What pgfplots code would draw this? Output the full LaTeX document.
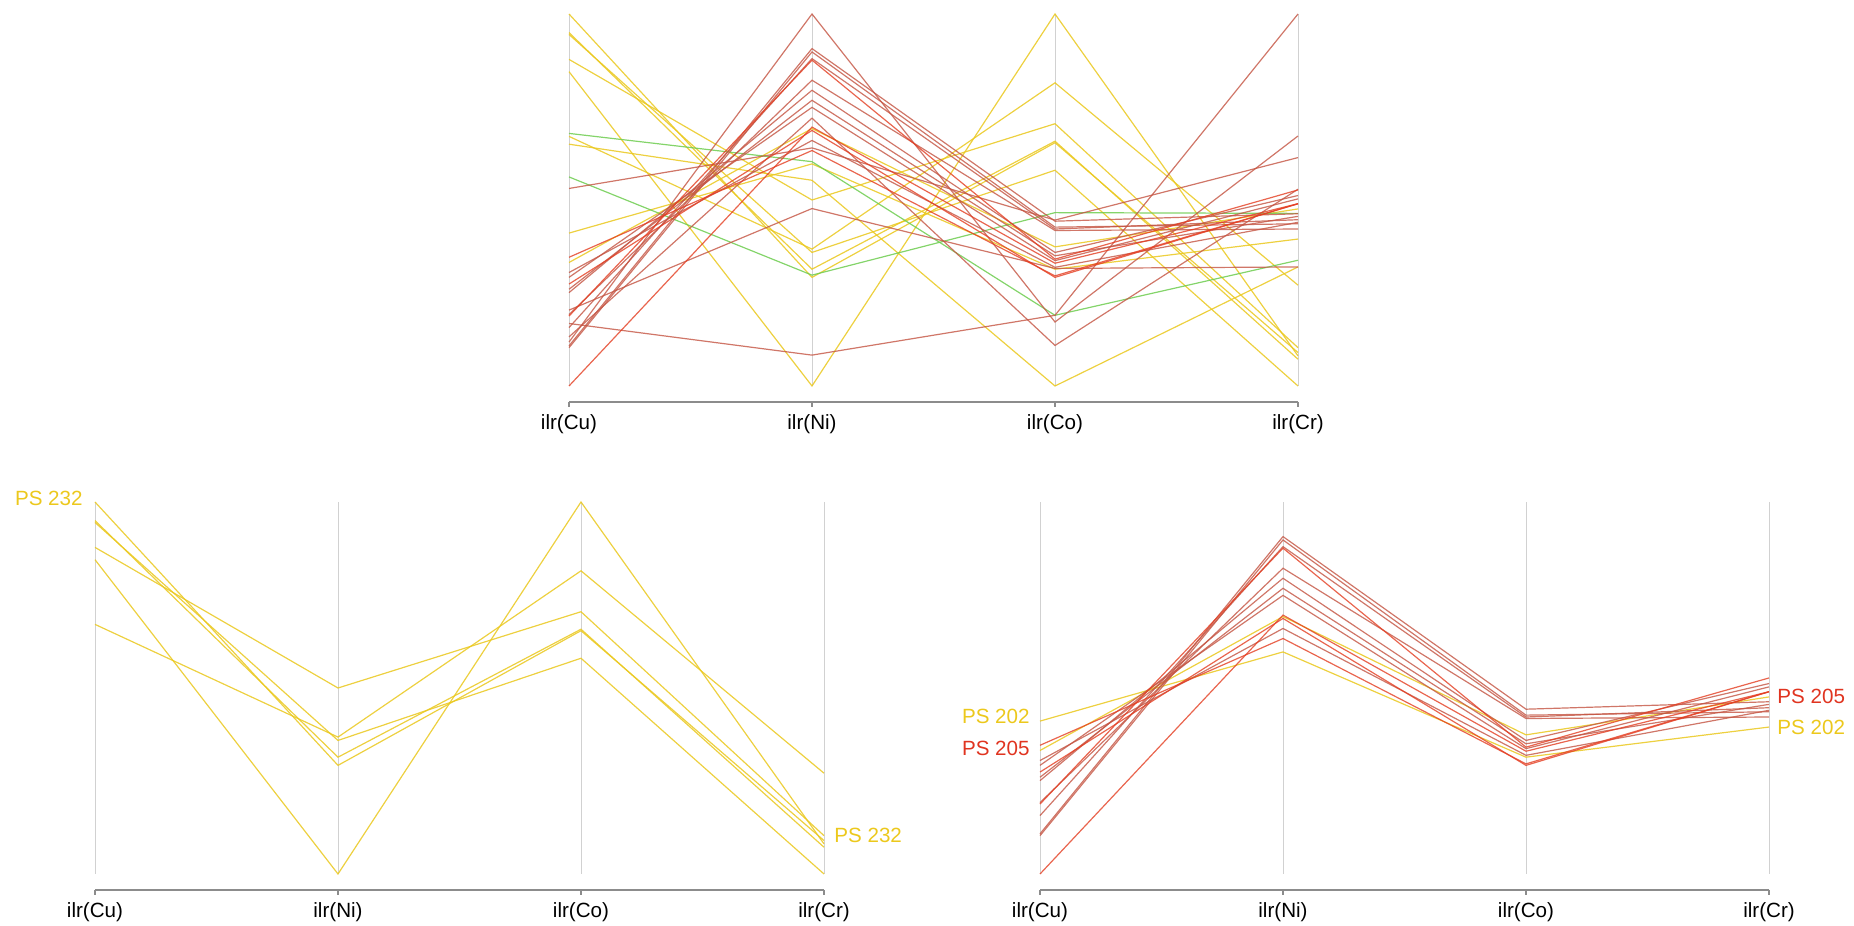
\documentclass[border=0pt]{standalone}
\usepackage{fontspec}
\setmainfont{Liberation Sans}
\usepackage{pgfplots}
\usepackage{pgfplotstable}
\pgfplotsset{compat=1.18}

\definecolor{yl}{RGB}{234,200,30}
\definecolor{rdA}{RGB}{196,84,66}
\definecolor{rdB}{RGB}{228,62,34}
\definecolor{gr}{RGB}{110,205,80}
\definecolor{ylab}{RGB}{236,200,28}
\definecolor{rlab}{RGB}{224,52,32}

% rows = the four ilr axes, columns = one sample line each (min-max scaled)
\pgfplotstableread{
x  L1    L2    L3    L4    L5    L6
0  1.000 0.950 0.945 0.878 0.845 0.671
1  0.292 0.314 0.359 0.500 0.000 0.368
2  0.654 0.658 0.580 0.705 1.000 0.815
3  0.090 0.072 0.000 0.103 0.081 0.271
}\bl

\pgfplotstableread{
x  Y1    Y2    R1    R2    R3    R4    R5    R6    R7    R8    R9    R10   R11   R12
0  0.411 0.332 0.346 0.305 0.292 0.274 0.260 0.251 0.192 0.188 0.157 0.108 0.103 0.000
1  0.597 0.692 0.633 0.660 0.749 0.687 0.768 0.795 0.822 0.876 0.880 0.907 0.898 0.696
2  0.314 0.374 0.296 0.319 0.337 0.292 0.350 0.359 0.418 0.341 0.422 0.443 0.427 0.330
3  0.395 0.476 0.490 0.440 0.503 0.490 0.456 0.512 0.422 0.527 0.447 0.463 0.436 0.490
}\br

\pgfplotstableread{
x  G1    G2    Ya    Rx1   Rx2   Rx3   Rx4   Rx5
0  0.679 0.562 0.650 0.531 0.168 0.118 0.204 0.132
1  0.603 0.298 0.553 0.640 0.083 1.000 0.477 0.720
2  0.190 0.466 0.000 0.446 0.190 0.172 0.316 0.109
3  0.338 0.464 0.320 0.614 1.000 0.672 0.320 0.529
}\ex

\tikzset{lab/.style={font=\fontsize{10.3}{12}\selectfont, inner sep=1pt}}

\pgfplotsset{
  pc/.style={
    scale only axis, width=364.5pt, height=186pt, anchor=south west,
    xmin=0, xmax=3, ymin=0, ymax=1, clip=false,
    axis line style={draw=none}, major tick length=0pt,
    xtick={0,1,2,3}, xticklabels={ilr(Cu),ilr(Ni),ilr(Co),ilr(Cr)}, ytick=\empty,
    xmajorgrids, grid style={black!18, line width=0.5pt},
    xticklabel style={font=\fontsize{10.3}{12}\selectfont, yshift=-11pt},
  },
  yln/.style={yl, opacity=0.85, line width=0.6pt, no marks},
  rA/.style={rdA, opacity=0.8, line width=0.6pt, no marks},
  rB/.style={rdB, opacity=0.8, line width=0.6pt, no marks},
  gln/.style={gr, opacity=0.85, line width=0.6pt, no marks},
  baseline/.code={\draw[black!45, line width=0.6pt] (axis cs:0,-0.043) -- (axis cs:3,-0.043)
      (axis cs:0,-0.043) -- ++(0,-2.5pt) (axis cs:1,-0.043) -- ++(0,-2.5pt)
      (axis cs:2,-0.043) -- ++(0,-2.5pt) (axis cs:3,-0.043) -- ++(0,-2.5pt);},
}

\begin{document}
\begin{tikzpicture}
\useasboundingbox (0,0) rectangle (927pt,463pt);

% top: all samples
\begin{axis}[pc, at={(284.5pt,270pt)}]
\pgfplotsinvokeforeach{L1,L2,L3,L4,L5,L6}{\addplot[yln] table[x=x,y=#1]{\bl};}
\addplot[yln] table[x=x,y=Ya]{\ex};
\addplot[yln] table[x=x,y=Y1]{\br};
\addplot[yln] table[x=x,y=Y2]{\br};
\addplot[gln] table[x=x,y=G1]{\ex};
\addplot[gln] table[x=x,y=G2]{\ex};
\pgfplotsinvokeforeach{Rx1,Rx2,Rx3,Rx4,Rx5}{\addplot[rA] table[x=x,y=#1]{\ex};}
\pgfplotsinvokeforeach{R2,R3,R5,R6,R7,R9,R10,R11}{\addplot[rA] table[x=x,y=#1]{\br};}
\pgfplotsinvokeforeach{R1,R4,R8,R12}{\addplot[rB] table[x=x,y=#1]{\br};}
\pgfplotsset{baseline}
\end{axis}

% bottom left: yellow group
\begin{axis}[pc, at={(47.5pt,26pt)}]
\pgfplotsinvokeforeach{L1,L2,L3,L4,L5,L6}{\addplot[yln] table[x=x,y=#1]{\bl};}
\pgfplotsset{baseline}
\node[lab, anchor=east, text=ylab, xshift=-5pt, yshift=2pt] at (axis cs:0,1) {PS 232};
\node[lab, anchor=west, text=ylab, xshift=4pt] at (axis cs:3,0.105) {PS 232};
\end{axis}

% bottom right: red group
\begin{axis}[pc, at={(520pt,26pt)}]
\addplot[yln] table[x=x,y=Y1]{\br};
\addplot[yln] table[x=x,y=Y2]{\br};
\pgfplotsinvokeforeach{R2,R3,R5,R6,R7,R9,R10,R11}{\addplot[rA] table[x=x,y=#1]{\br};}
\pgfplotsinvokeforeach{R1,R4,R8,R12}{\addplot[rB] table[x=x,y=#1]{\br};}
\pgfplotsset{baseline}
\node[lab, anchor=east, text=ylab, xshift=-4pt] at (axis cs:0,0.424) {PS 202};
\node[lab, anchor=east, text=rlab, xshift=-4pt] at (axis cs:0,0.338) {PS 205};
\node[lab, anchor=west, text=rlab, xshift=3pt] at (axis cs:3,0.478) {PS 205};
\node[lab, anchor=west, text=ylab, xshift=3pt] at (axis cs:3,0.394) {PS 202};
\end{axis}
\end{tikzpicture}
\end{document}
